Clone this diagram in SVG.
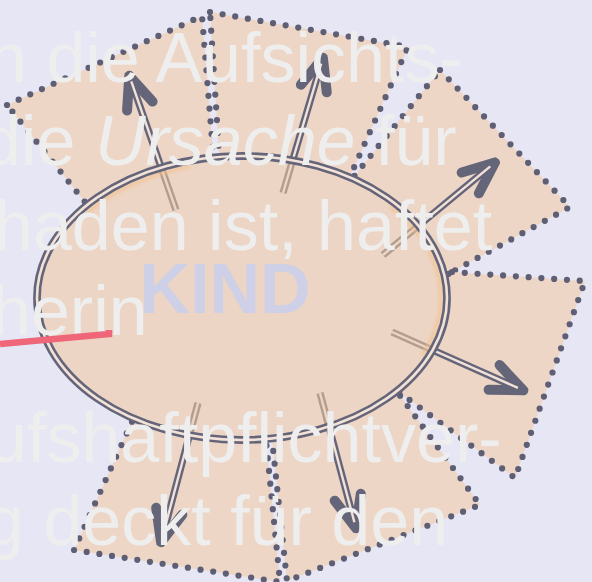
<svg xmlns="http://www.w3.org/2000/svg" width="592" height="582" viewBox="0 0 592 582">
  <style>
    .petal { fill: #EED6C6; stroke: #5E5E74; stroke-width: 6.2; stroke-dasharray: 0 12.8; stroke-linecap: round; stroke-linejoin: round; }
    .shaft { fill: none; stroke: #65657A; stroke-width: 7.2; }
    .inner { fill: none; stroke: #F2E2D8; stroke-width: 2.4; }
    .tan { fill: none; stroke: #B39E8E; stroke-width: 7.2; }
    .taninner { fill: none; stroke: #EDD5C5; stroke-width: 2.4; }
    .over { font-family: "Liberation Sans", Arial, sans-serif; font-size: 70px; fill: #EEEEEE; }
  </style>
  <defs>
    <marker id="ah" viewBox="-50 -25 60 50" refX="0" refY="0" markerWidth="60" markerHeight="50" markerUnits="userSpaceOnUse" orient="auto" overflow="visible">
      <path d="M-36,-13.5 L-4,0 L-36,13.5" fill="none" stroke="#65657A" stroke-width="10" stroke-linecap="round" stroke-linejoin="round"/>
    </marker>
    <clipPath id="inside">
      <ellipse cx="242" cy="298" rx="205" ry="142"/>
    </clipPath>
    <filter id="soft" x="-10%" y="-10%" width="120%" height="120%">
      <feGaussianBlur stdDeviation="1.6"/>
    </filter>
  </defs>

  <rect width="592" height="582" fill="#E6E6F5"/>

  <g id="petal-1"><polygon class="petal" points="7,105 202,16 213,152 222,235 130,258"/></g>
  <g id="petal-2"><polygon class="petal" points="210,12 408,47 352,172 340,199 300,235 222,235 219,152"/></g>
  <g id="petal-3"><polygon class="petal" points="440,70 570,207 452,272 400,290 343,190"/></g>
  <g id="petal-4"><polygon class="petal" points="452,272 585,281 515,478 380,378 420,290"/></g>
  <g id="petal-5"><polygon class="petal" points="385,375 480,505 287,581 270,420 330,400"/></g>
  <g id="petal-6"><polygon class="petal" points="264,420 280,582 74,550 140,404 200,400"/></g>

  <g id="connectors">
    <line class="shaft" x1="176" y1="210" x2="128" y2="72" marker-end="url(#ah)"/>
    <line class="inner" x1="176" y1="210" x2="131.3" y2="81.4"/>
    <line class="shaft" x1="283" y1="193" x2="324" y2="54" marker-end="url(#ah)"/>
    <line class="inner" x1="283" y1="193" x2="321.2" y2="63.6"/>
    <line class="shaft" x1="383" y1="255" x2="498" y2="160" marker-end="url(#ah)"/>
    <line class="inner" x1="383" y1="255" x2="490.3" y2="166.4"/>
    <line class="shaft" x1="392" y1="332" x2="527" y2="392" marker-end="url(#ah)"/>
    <line class="inner" x1="392" y1="332" x2="517.9" y2="387.9"/>
    <line class="shaft" x1="320" y1="393" x2="357" y2="532" marker-end="url(#ah)"/>
    <line class="inner" x1="320" y1="393" x2="354.4" y2="522.3"/>
    <line class="shaft" x1="198" y1="403" x2="160" y2="546" marker-end="url(#ah)"/>
    <line class="inner" x1="198" y1="403" x2="162.6" y2="536.3"/>
  </g>

  <g id="kind">
    <ellipse cx="242" cy="298" rx="205" ry="142" fill="#EDD5C5"/>
    <g clip-path="url(#inside)">
      <line class="tan" x1="176" y1="210" x2="128" y2="72"/>
      <line class="taninner" x1="176" y1="210" x2="128" y2="72"/>
      <line class="tan" x1="283" y1="193" x2="324" y2="54"/>
      <line class="taninner" x1="283" y1="193" x2="324" y2="54"/>
      <line class="tan" x1="383" y1="255" x2="498" y2="160"/>
      <line class="taninner" x1="383" y1="255" x2="498" y2="160"/>
      <line class="tan" x1="392" y1="332" x2="527" y2="392"/>
      <line class="taninner" x1="392" y1="332" x2="527" y2="392"/>
      <line class="tan" x1="320" y1="393" x2="357" y2="532"/>
      <line class="taninner" x1="320" y1="393" x2="357" y2="532"/>
      <line class="tan" x1="198" y1="403" x2="160" y2="546"/>
      <line class="taninner" x1="198" y1="403" x2="160" y2="546"/>
      <g filter="url(#soft)" fill="none" stroke="#F4BF88" stroke-width="4" opacity="0.55">
        <path d="M79,220 A199,136 0 0 1 190,166.6"/>
        <path d="M390,207 A199,136 0 0 1 422,355.5"/>
      </g>
    </g>
    <ellipse cx="242" cy="298" rx="205" ry="142" fill="none" stroke="#65657A" stroke-width="7.8"/>
    <ellipse cx="242" cy="298" rx="205" ry="142" fill="none" stroke="#F2E2D8" stroke-width="2.6"/>
    <text x="225" y="313" text-anchor="middle" font-family="Liberation Sans, Arial, sans-serif" font-size="70" font-weight="bold" fill="#CDD0E6">KIND</text>
  </g>

  <g id="overlay-text" class="over">
    <text x="-12" y="82">n die Aufsichts-</text>
    <text x="-18" y="165">die <tspan font-style="italic">Ursache</tspan> für</text>
    <text x="-6" y="250">haden ist, haftet</text>
    <text x="-8" y="335">herin</text>
    <text x="-12" y="462">ufshaftpflichtver-</text>
    <text x="-15" y="545">g deckt für den</text>
  </g>

  <polyline points="0,344 109,334 109,330" fill="none" stroke="#EE6677" stroke-width="6.5" stroke-linejoin="miter"/>
</svg>
